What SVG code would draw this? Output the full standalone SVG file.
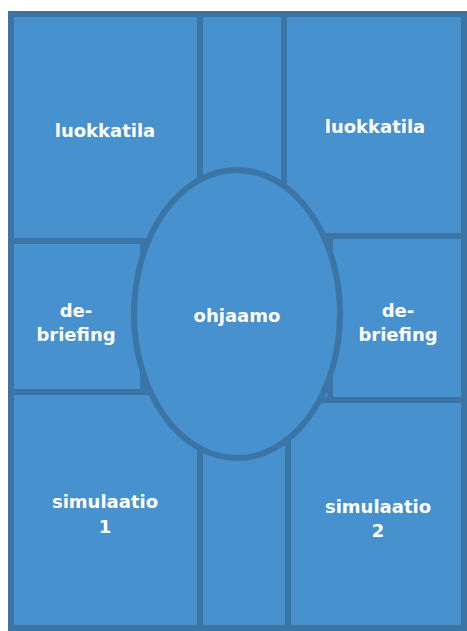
<svg xmlns="http://www.w3.org/2000/svg" width="467" height="631" viewBox="0 0 467 631">
<style>
.room{fill:#4791CE;stroke:#3A75A6;stroke-width:6}
.lbl{fill:#FFFFFF;font-family:"DejaVu Sans",sans-serif;font-weight:bold;font-size:18px;text-anchor:middle}
</style>
<rect width="467" height="631" fill="#FFFFFF"/>
<g id="corridor"><rect class="room" x="11" y="14" width="453" height="614" rx="2"/></g>
<g id="connectors"></g>
<g id="luokkatila1"><rect class="room" x="11" y="14" width="189" height="227"/><text class="lbl" x="105" y="137">luokkatila</text></g>
<g id="debriefing1"><rect class="room" x="11" y="241" width="132" height="151"/><text class="lbl" x="76" y="317">de-</text><text class="lbl" x="76" y="341">briefing</text></g>
<g id="simulaatio1"><rect class="room" x="11" y="392" width="189" height="236"/><text class="lbl" x="105" y="508">simulaatio</text><text class="lbl" x="105" y="533">1</text></g>
<g id="luokkatila2"><rect class="room" x="284" y="14" width="180" height="222"/><text class="lbl" x="375" y="133">luokkatila</text></g>
<g id="debriefing2"><rect class="room" x="330" y="236" width="134" height="164"/><text class="lbl" x="398" y="317">de-</text><text class="lbl" x="398" y="341">briefing</text></g>
<g id="simulaatio2"><rect class="room" x="288" y="400" width="176" height="228"/><text class="lbl" x="378" y="513">simulaatio</text><text class="lbl" x="378" y="537">2</text></g>
<g id="ohjaamo"><ellipse class="room" cx="237" cy="314" rx="103" ry="144"/><text class="lbl" x="237" y="322">ohjaamo</text></g>
</svg>
